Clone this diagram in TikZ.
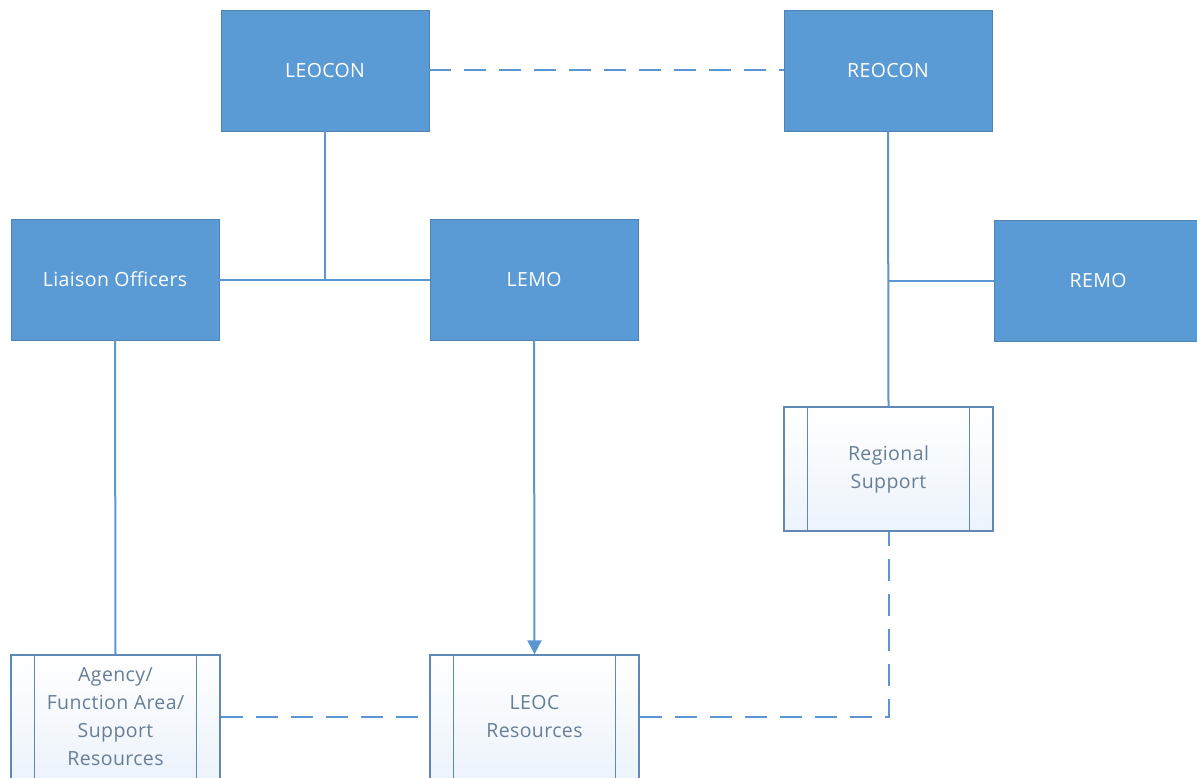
\documentclass[tikz,border=0pt]{standalone}
\usepackage{fontspec}
\setmainfont{Open Sans}[LetterSpace=2]
\usetikzlibrary{arrows.meta}
\definecolor{boxblue}{RGB}{91,155,213}
\definecolor{lineblue}{RGB}{91,150,210}
\definecolor{procedge}{RGB}{96,136,180}
\definecolor{proctext}{RGB}{104,126,150}
\definecolor{procfill}{RGB}{236,243,251}
\tikzset{
  x=1pt, y=-1pt,
  rolebox/.style={draw=boxblue!85!black, line width=0.8pt, fill=boxblue, text=white,
    minimum width=208pt, minimum height=121pt, inner sep=0pt, font=\fontsize{19.5}{22}\selectfont},
  procbox/.style={draw=procedge, line width=1.3pt, top color=white, bottom color=procfill,
    minimum width=209pt, minimum height=124pt, inner sep=0pt, align=center, text=proctext,
    font=\fontsize{19.5}{28}\selectfont},
  link/.style={draw=lineblue, line width=2pt},
  dashlink/.style={link, dash pattern=on 22pt off 13pt},
}
\newcommand{\procsides}[1]{%
  \draw[procedge, line width=1.3pt] ([xshift=24pt]#1.north west) -- ([xshift=24pt]#1.south west);
  \draw[procedge, line width=1.3pt] ([xshift=-24pt]#1.north east) -- ([xshift=-24pt]#1.south east);}
\begin{document}
\begin{tikzpicture}
\useasboundingbox (0,0) rectangle (1197,778);
\clip (0,0) rectangle (1197,778);
\fill[white] (0,0) rectangle (1197,778);

% command and management roles
\node[rolebox] (leocon) at (325,70.5) {LEOCON};
\node[rolebox] (reocon) at (888,70.5) {REOCON};
\node[rolebox] (liaison) at (115,279.5) {Liaison Officers};
\node[rolebox] (lemo) at (534,279.5) {LEMO};
\node[rolebox] (remo) at (1098,280.5) {REMO};

% resource groups
\node[procbox] (regional) at (888.5,469) {Regional\\Support};
\node[procbox] (agency) at (115.5,717) {Agency/\\Function Area/\\Support\\Resources};
\node[procbox] (leoc) at (534.5,717) {LEOC\\Resources};
\procsides{regional}
\procsides{agency}
\procsides{leoc}

% reporting lines
\coordinate (j1) at (leocon.south |- liaison.east);
\coordinate (j2) at (reocon.south |- remo.west);
\coordinate (j3) at (regional.south |- leoc.east);
\draw[link] (leocon.south) -- (j1);
\draw[link] (liaison.east) -- (lemo.west);
\draw[link] (reocon.south) -- (regional.north);
\draw[link] (remo.west) -- (j2);
\draw[link] (liaison.south) -- (agency.north);
\draw[link, -{Triangle[length=14pt, width=14pt]}] (lemo.south) -- (leoc.north);

% coordination links
\draw[dashlink] (leocon.east) -- (reocon.west);
\draw[dashlink] (agency.east) -- (leoc.west);
\draw[dashlink] (leoc.east) -- (j3) -- (regional.south);
\end{tikzpicture}
\end{document}
